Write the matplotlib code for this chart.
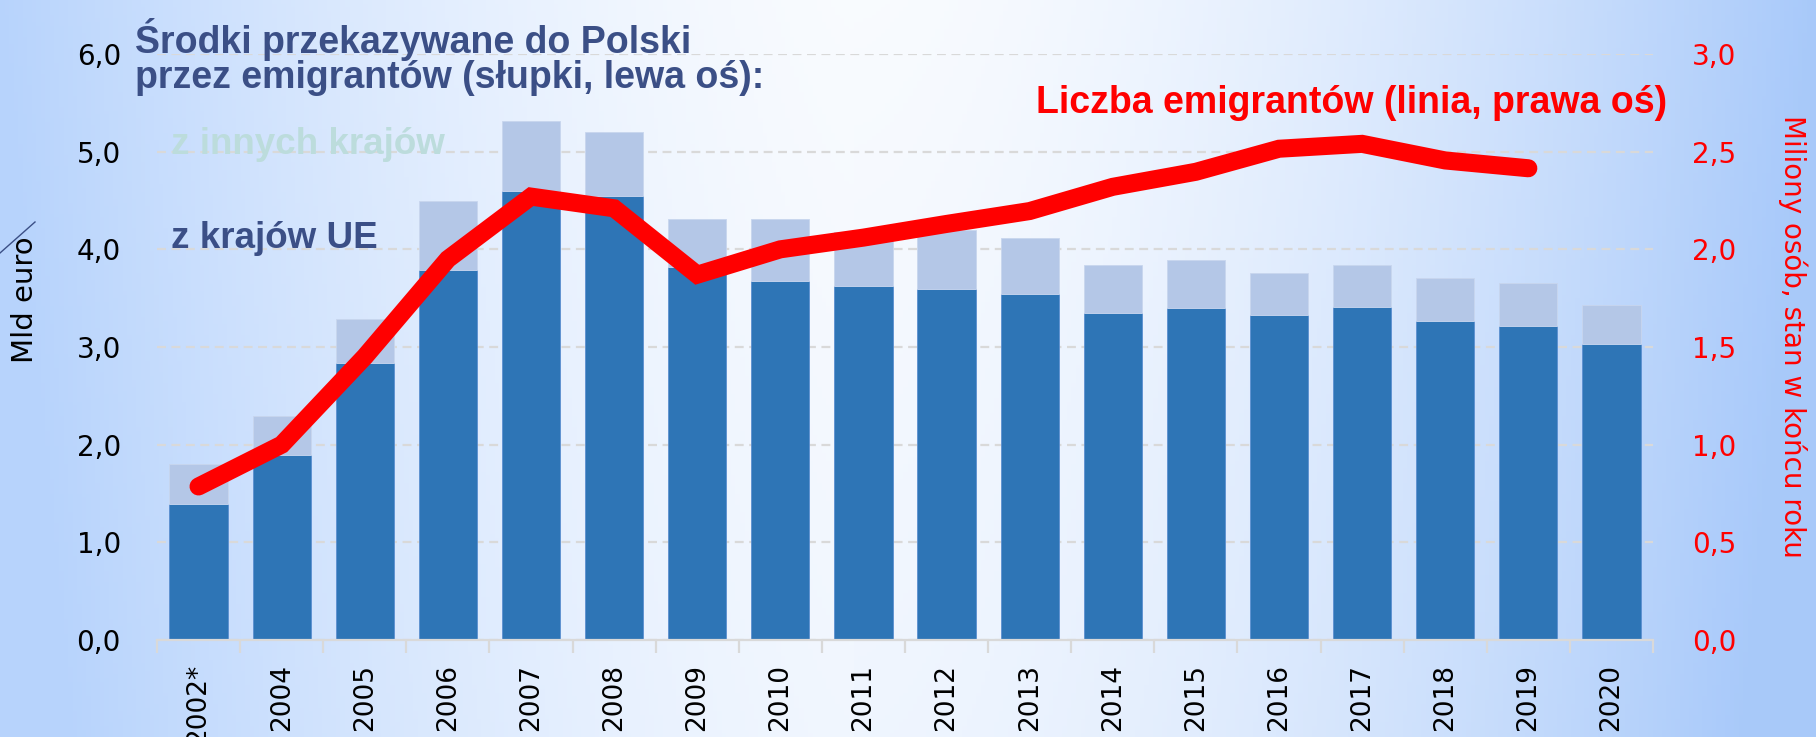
import numpy as np
import matplotlib
matplotlib.use("Agg")
import matplotlib.pyplot as plt
from matplotlib.lines import Line2D

years = ["2002*", "2004", "2005", "2006", "2007", "2008", "2009", "2010", "2011",
         "2012", "2013", "2014", "2015", "2016", "2017", "2018", "2019", "2020"]
# remittances, bn EUR (stacked bars, left axis)
from_eu = [1.39, 1.89, 2.84, 3.79, 4.60, 4.55, 3.82, 3.68, 3.62,
           3.59, 3.54, 3.35, 3.40, 3.33, 3.41, 3.27, 3.22, 3.03]
from_other = [0.41, 0.40, 0.45, 0.71, 0.71, 0.65, 0.49, 0.63, 0.56,
              0.61, 0.58, 0.49, 0.49, 0.43, 0.43, 0.44, 0.44, 0.40]
# emigrants, millions (line, right axis) - no value for 2020
emigrants = [0.786, 1.000, 1.450, 1.950, 2.270, 2.210, 1.870, 2.000, 2.060,
             2.130, 2.196, 2.320, 2.397, 2.515, 2.540, 2.455, 2.415]

left_ticks = [0, 1, 2, 3, 4, 5, 6]
right_ticks = [0, 0.5, 1.0, 1.5, 2.0, 2.5, 3.0]

DARK = "#2e75b6"
LIGHT = "#b4c7e7"
NAVY = "#3b4f86"
RED = "#ff0000"
GRID = "#d9d9d9"

W, H = 1816, 737
fig = plt.figure(figsize=(W / 100, H / 100), dpi=100)

# background gradient
bg = fig.add_axes([0, 0, 1, 1], zorder=-10)
xx, yy = np.meshgrid(np.linspace(0, 1, 400), np.linspace(0, 1, 200))
cx = 0.47
wl = np.clip((cx - xx) / cx, 0, 1) ** 1.5
wr = np.clip((xx - cx) / (1 - cx), 0, 1) ** 1.7
w = np.clip(np.maximum(wl, wr) + 0.12 * yy, 0, 1)
center = np.array([0.975, 0.985, 1.0])
edge_l = np.array([0.72, 0.83, 0.99])
edge_r = np.array([0.66, 0.79, 0.98])
edge = np.where((xx < cx)[..., None], edge_l, edge_r)
img = center * (1 - w[..., None]) + edge * w[..., None]
bg.imshow(img, aspect="auto", extent=[0, 1, 0, 1], origin="upper")
bg.axis("off")

ax = fig.add_axes([157 / W, 1 - 640 / H, (1653 - 157) / W, (640 - 54) / H])
ax.set_facecolor("none")
x = np.arange(len(years))
ax.bar(x, from_eu, width=0.7, color=DARK, edgecolor="#5b8fd0", linewidth=0.6, zorder=2)
ax.bar(x, from_other, width=0.7, bottom=from_eu, color=LIGHT, edgecolor="#c8d6ee",
       linewidth=0.6, zorder=2)

ax.set_xlim(-0.5, len(years) - 0.5)
ax.set_ylim(0, 6)
ax.set_yticks(left_ticks)
ax.set_yticklabels([f"{v:.1f}".replace(".", ",") for v in left_ticks])
ax.yaxis.grid(True, color=GRID, linestyle=(0, (4, 2.5)), linewidth=1.6)
ax.set_axisbelow(True)
ax.tick_params(axis="y", length=0, pad=26, labelsize=20, labelcolor="black")

ax.set_xticks(x)
ax.set_xticklabels(years, rotation=90, fontsize=19)
ax.set_xticks(np.arange(-0.5, len(years)), minor=True)
ax.tick_params(axis="x", which="major", length=0, pad=17)
ax.tick_params(axis="x", which="minor", length=9, width=1.6, color=GRID)
for s in ["top", "left", "right"]:
    ax.spines[s].set_visible(False)
ax.spines["bottom"].set_color(GRID)
ax.spines["bottom"].set_linewidth(1.6)

ax2 = ax.twinx()
ax2.plot(np.arange(len(emigrants)), emigrants, color=RED, linewidth=13,
         solid_capstyle="round", solid_joinstyle="miter", zorder=5)
ax2.set_ylim(0, 3)
ax2.set_yticks(right_ticks)
ax2.set_yticklabels([f"{v:.1f}".replace(".", ",") for v in right_ticks])
ax2.tick_params(axis="y", length=0, pad=28, labelsize=20, labelcolor=RED)
for s in ax2.spines.values():
    s.set_visible(False)

bold = ["Liberation Sans", "DejaVu Sans"]
fig.text(135 / W, 1 - 18 / H, "Środki przekazywane do Polski\nprzez emigrantów (słupki, lewa oś):",
         fontsize=27, fontweight="bold", color=NAVY, family=bold, va="top", ha="left",
         linespacing=0.95)
fig.text(171 / W, 1 - 145 / H, "z innych krajów", fontsize=26.5, fontweight="bold",
         color="#bcdcdc", family=bold, va="center", ha="left")
fig.text(171 / W, 1 - 238 / H, "z krajów UE", fontsize=26.5, fontweight="bold",
         color=NAVY, family=bold, va="center", ha="left")
fig.text(1667 / W, 1 - 103 / H, "Liczba emigrantów (linia, prawa oś)", fontsize=27,
         fontweight="bold", color=RED, family=bold, va="center", ha="right")

fig.text(25 / W, 1 - 300 / H, "Mld euro", rotation=90, fontsize=21, color="black",
         va="center", ha="center")
fig.text(1793 / W, 1 - 336 / H, "Miliony osób, stan w końcu roku", rotation=-90,
         fontsize=20, color=RED, va="center", ha="center")
fig.add_artist(Line2D([0, 35 / W], [1 - 253 / H, 1 - 222 / H], color="#3b4f86",
                      linewidth=1, transform=fig.transFigure))

fig.savefig("out.png", dpi=100)
